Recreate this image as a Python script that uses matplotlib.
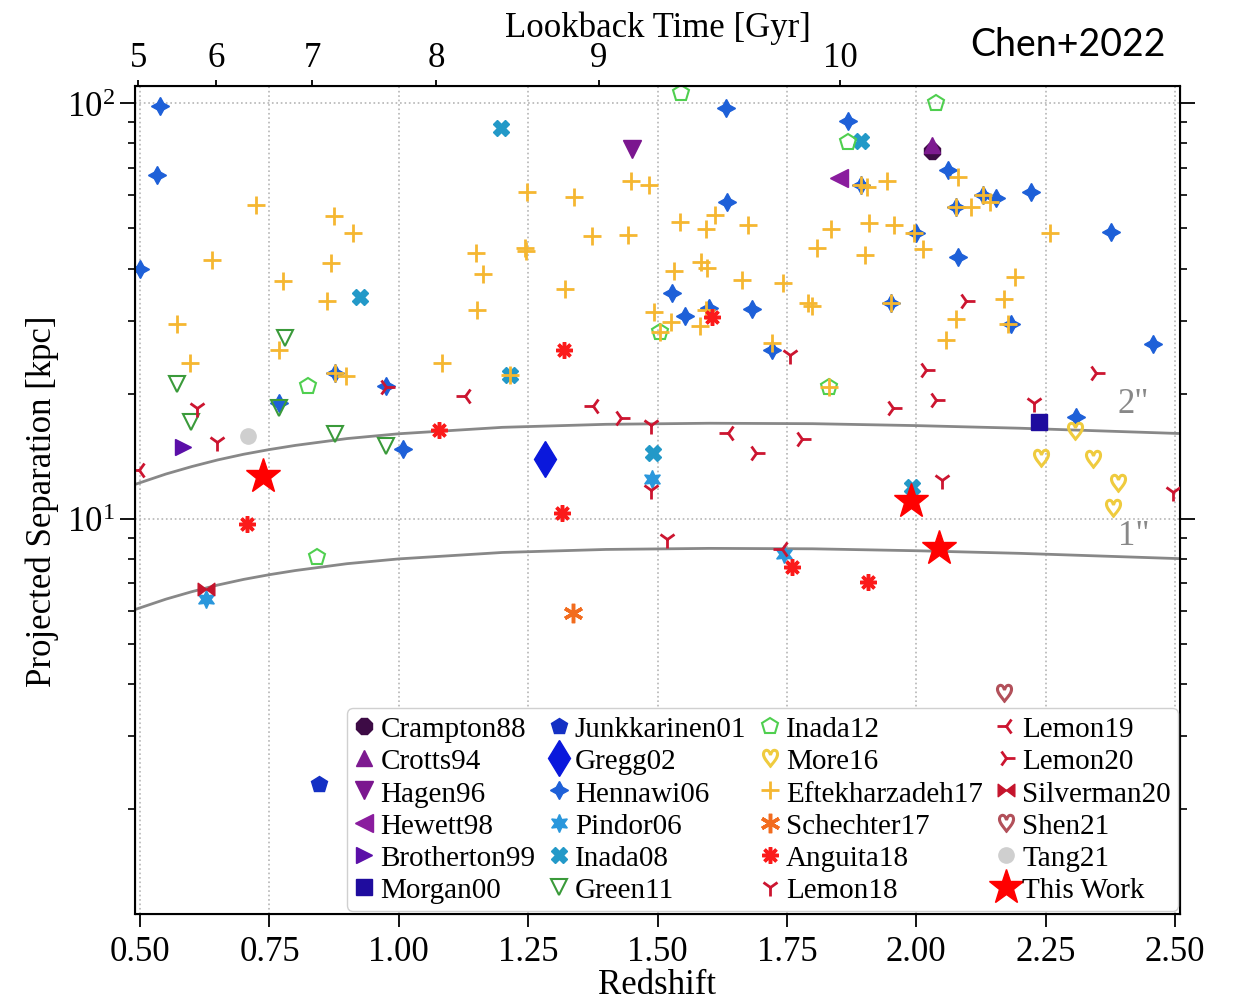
import numpy as np
import matplotlib
matplotlib.use("Agg")
import matplotlib.pyplot as plt
from matplotlib.path import Path
from matplotlib.ticker import LogLocator, LogFormatterMathtext, NullFormatter, FixedLocator

plt.rcParams['font.family'] = ['Liberation Serif', 'DejaVu Serif']
plt.rcParams['mathtext.fontset'] = 'stix'

# ---- data: redshift z, projected separation [kpc] ----
crampton88_z, crampton88_sep = [2.03], [76.9]
crotts94_z, crotts94_sep = [2.03], [79.5]
hagen96_z, hagen96_sep = [1.45], [77.4]
hewett98_z, hewett98_sep = [1.85], [66.2]
brotherton99_z, brotherton99_sep = [0.583], [14.9]
morgan00_z, morgan00_sep = [2.238], [17.1]
junkkarinen01_z, junkkarinen01_sep = [0.845], [2.30]
gregg02_z, gregg02_sep = [1.283], [13.9]
hennawi06_z = [0.539, 0.533, 0.50, 0.768, 1.009, 0.976, 1.632, 1.869, 1.634, 1.528,
               1.553, 1.599, 1.682, 1.721, 1.952, 1.999, 2.062, 2.080, 2.155, 2.222,
               2.376, 2.458, 2.309, 1.893, 2.076, 2.130, 2.184, 0.876]
hennawi06_sep = [98.4, 67.0, 39.9, 19.0, 14.7, 20.9, 97.3, 90.6, 58.0, 34.9,
                 30.8, 32.1, 32.0, 25.5, 33.0, 48.7, 68.9, 42.7, 59.0, 61.2,
                 49.1, 26.3, 17.6, 63.4, 56.3, 60.0, 29.4, 22.4]
pindor06_z, pindor06_sep = [1.489, 0.627, 1.744], [12.5, 6.41, 8.23]
inada08_z = [1.198, 1.894, 0.924, 1.491, 1.214, 1.991]
inada08_sep = [87.1, 81.0, 34.2, 14.4, 22.2, 11.9]
green11_z = [0.780, 0.571, 0.598, 0.768, 0.876, 0.976]
green11_sep = [27.2, 21.1, 17.1, 18.5, 16.0, 15.0]
inada12_z = [1.545, 1.869, 2.039, 1.505, 1.831, 0.824, 0.841]
inada12_sep = [105.7, 80.5, 100.0, 28.1, 20.7, 20.9, 8.09]
more16_z = [2.307, 2.242, 2.342, 2.390, 2.380]
more16_sep = [16.3, 14.0, 13.95, 12.2, 10.6]
eft17_z = [0.724, 0.639, 0.571, 0.596, 0.874, 0.911, 0.868, 0.776, 0.861, 0.768,
           0.876, 0.897, 1.150, 1.162, 1.152, 1.084, 1.248, 1.243, 1.246, 1.214,
           1.339, 1.374, 1.322, 1.449, 1.484, 1.443, 1.543, 1.611, 1.594, 1.675,
           1.532, 1.584, 1.595, 1.663, 1.742, 1.493, 1.526, 1.582, 1.594, 1.721,
           1.790, 1.798, 1.808, 1.835, 1.902, 1.908, 1.943, 1.958, 1.904, 1.893,
           1.952, 1.995, 2.080, 2.106, 2.076, 2.130, 2.143, 2.014, 2.259, 2.191,
           2.170, 2.076, 2.058, 2.178, 1.505, 1.831]
eft17_sep = [56.8, 42.0, 29.4, 23.7, 53.6, 48.7, 41.3, 37.3, 33.4, 25.5,
             22.4, 22.1, 43.7, 38.8, 31.8, 23.7, 61.2, 44.9, 44.0, 22.2,
             59.6, 47.8, 35.7, 64.9, 63.4, 48.3, 51.9, 53.9, 49.9, 51.0,
             39.5, 41.5, 40.2, 37.6, 37.0, 31.4, 29.7, 29.1, 31.8, 26.5,
             33.0, 32.6, 44.9, 49.9, 43.2, 51.6, 64.9, 51.0, 62.7, 63.4,
             33.0, 48.7, 66.3, 56.3, 56.3, 60.0, 58.0, 44.7, 48.7, 38.2,
             33.8, 30.3, 26.9, 29.4, 28.1, 20.7]
schechter17_z, schechter17_sep = [1.337], [5.93]
anguita18_z = [0.706, 1.077, 1.316, 1.320, 1.605, 1.760, 1.906]
anguita18_sep = [9.72, 16.4, 10.3, 25.5, 30.6, 7.66, 7.04]
lemon18_z = [0.610, 0.649, 1.487, 1.487, 1.518, 1.757, 2.228, 2.049, 2.496]
lemon18_sep = [18.5, 15.3, 16.8, 11.75, 8.95, 24.8, 19.0, 12.4, 11.6]
lemon19_z = [0.498, 1.127, 1.376, 1.636, 1.740]
lemon19_sep = [13.1, 19.7, 18.7, 16.1, 8.47]
lemon20_z = [0.976, 1.430, 1.690, 1.779, 1.956, 2.097, 2.018, 2.348, 2.039]
lemon20_sep = [20.8, 17.5, 14.4, 15.6, 18.5, 33.4, 22.8, 22.4, 19.3]
silverman20_z, silverman20_sep = [0.627], [6.78]
shen21_z, shen21_sep = [2.170], [3.82]
tang21_z, tang21_sep = [0.708], [15.8]
thiswork_z, thiswork_sep = [0.737, 1.989, 2.045], [12.7, 11.05, 8.51]

# 1" and 2" separation curves
curve_z = [0.49, 0.55, 0.60, 0.65, 0.70, 0.75, 0.80, 0.90, 1.00, 1.20, 1.40,
           1.60, 1.80, 2.00, 2.20, 2.51]
sep_1arcsec = [6.05, 6.41, 6.68, 6.93, 7.15, 7.34, 7.51, 7.80, 8.01, 8.30, 8.44,
               8.49, 8.47, 8.38, 8.26, 8.02]
sep_2arcsec = [2 * s for s in sep_1arcsec]

# top axis: lookback time ticks (Gyr) and where they sit in redshift
lookback_labels = ['5', '6', '7', '8', '9', '10']
lookback_z = [0.496, 0.647, 0.833, 1.072, 1.387, 1.853]

x_ticks = [0.50, 0.75, 1.00, 1.25, 1.50, 1.75, 2.00, 2.25, 2.50]

bowtie = Path([(-1, -0.75), (-1, 0.75), (0, 0), (-1, -0.75),
               (1, -0.75), (1, 0.75), (0, 0), (1, -0.75)],
              [Path.MOVETO, Path.LINETO, Path.LINETO, Path.CLOSEPOLY,
               Path.MOVETO, Path.LINETO, Path.LINETO, Path.CLOSEPOLY])

series = [
    ('Crampton88', crampton88_z, crampton88_sep, dict(marker='8', ms=13, color='#3d0b45')),
    ('Crotts94', crotts94_z, crotts94_sep, dict(marker='^', ms=11, color='#7d1a90')),
    ('Hagen96', hagen96_z, hagen96_sep, dict(marker='v', ms=13, color='#7b168f')),
    ('Hewett98', hewett98_z, hewett98_sep, dict(marker='<', ms=13, color='#8a1c9e')),
    ('Brotherton99', brotherton99_z, brotherton99_sep, dict(marker='>', ms=12, color='#5b0fa8')),
    ('Morgan00', morgan00_z, morgan00_sep, dict(marker='s', ms=12, color='#1f0c9e')),
    ('Junkkarinen01', junkkarinen01_z, junkkarinen01_sep, dict(marker='p', ms=12, color='#1430c4')),
    ('Gregg02', gregg02_z, gregg02_sep, dict(marker='d', ms=18, color='#0a18dc')),
    ('Hennawi06', hennawi06_z, hennawi06_sep, dict(marker=(4, 1, 0), ms=13, color='#1e60d8')),
    ('Pindor06', pindor06_z, pindor06_sep, dict(marker=(6, 1, 0), ms=13, color='#2a97dc')),
    ('Inada08', inada08_z, inada08_sep, dict(marker='X', ms=12, color='#2399c8')),
    ('Green11', green11_z, green11_sep, dict(marker='v', ms=12, mfc='none', mec='#3a9a3a', mew=1.5)),
    ('Inada12', inada12_z, inada12_sep, dict(marker='p', ms=12, mfc='none', mec='#4fcf4f', mew=1.5)),
    ('More16', more16_z, more16_sep, dict(marker=r'$\heartsuit$', ms=13, color='#efcb3e')),
    ('Eftekharzadeh17', eft17_z, eft17_sep, dict(marker='+', ms=13, mew=2, color='#f5b731')),
    ('Schechter17', schechter17_z, schechter17_sep, dict(marker=(6, 2, 0), ms=14, mew=2.5, color='#f26c1e')),
    ('Anguita18', anguita18_z, anguita18_sep, dict(marker=(8, 2, 0), ms=12, mew=2.5, color='#fb1a1a')),
    ('Lemon18', lemon18_z, lemon18_sep, dict(marker='1', ms=13, mew=2, color='#cc1530')),
    ('Lemon19', lemon19_z, lemon19_sep, dict(marker='3', ms=13, mew=2, color='#cc1530')),
    ('Lemon20', lemon20_z, lemon20_sep, dict(marker='4', ms=13, mew=2, color='#cc1530')),
    ('Silverman20', silverman20_z, silverman20_sep, dict(marker=bowtie, ms=12, color='#c5142c')),
    ('Shen21', shen21_z, shen21_sep, dict(marker=r'$\heartsuit$', ms=13, color='#b2505a')),
    ('Tang21', tang21_z, tang21_sep, dict(marker='o', ms=11, color='#cfcfcf')),
    ('This Work', thiswork_z, thiswork_sep, dict(marker='*', ms=26, color='#ff0000')),
]

fig = plt.figure(figsize=(12.35, 10.03), dpi=100)
ax = fig.add_axes([0.1093, 0.0877, 0.8462, 0.8256])

ax.plot(curve_z, sep_2arcsec, color='#888888', lw=2, zorder=2)
ax.plot(curve_z, sep_1arcsec, color='#888888', lw=2, zorder=2)
ax.text(2.42, 18.9, '2"', color='#888888', fontsize=25, ha='center', va='center')
ax.text(2.42, 9.1, '1"', color='#888888', fontsize=25, ha='center', va='center')

for name, zs, seps, st in series:
    ax.plot(zs, seps, linestyle='none', label=name, zorder=3, **st)

ax.set_yscale('log')
ax.set_xlim(0.49, 2.51)
ax.set_ylim(1.12, 110)
ax.set_xticks(x_ticks)
ax.set_xticklabels(['%.2f' % t for t in x_ticks])
ax.yaxis.set_major_locator(FixedLocator([10, 100]))
ax.yaxis.set_major_formatter(LogFormatterMathtext())
ax.yaxis.set_minor_locator(LogLocator(base=10, subs=np.arange(2, 10)))
ax.yaxis.set_minor_formatter(NullFormatter())

ax.grid(True, which='major', linestyle=':', color='#b5b5b5', lw=1.2)
ax.tick_params(axis='both', which='major', direction='out', labelsize=25, width=1.3)
ax.tick_params(axis='x', which='major', length=9, pad=6)
ax.tick_params(axis='y', which='both', right=True, left=True)
ax.tick_params(axis='y', which='major', length=11)
ax.tick_params(axis='y', which='minor', length=5, width=1.2)
for sp in ax.spines.values():
    sp.set_linewidth(1.5)

ax.set_xlabel('Redshift', fontsize=25, labelpad=0)
ax.set_ylabel('Projected Separation [kpc]', fontsize=25, labelpad=6)

ax_top = ax.twiny()
ax_top.set_xlim(ax.get_xlim())
ax_top.set_xticks(lookback_z)
ax_top.set_xticklabels(lookback_labels)
ax_top.tick_params(axis='x', direction='out', length=4.5, width=1.3, labelsize=25, pad=4)
ax_top.set_xlabel('Lookback Time [Gyr]', fontsize=25, labelpad=4)

leg = ax.legend(loc='lower right', bbox_to_anchor=(0.998, 0.004), ncol=4, fontsize=21,
                handlelength=0.7, handletextpad=0.2, columnspacing=0.45,
                labelspacing=0.2, borderpad=0.25, borderaxespad=0.0,
                frameon=True, fancybox=True, framealpha=1, edgecolor='#d0d0d0')

fig.text(0.865, 0.955, 'Chen+2022', fontsize=27, family='Lato', ha='center', va='center')

fig.savefig('out.png', dpi=100)
